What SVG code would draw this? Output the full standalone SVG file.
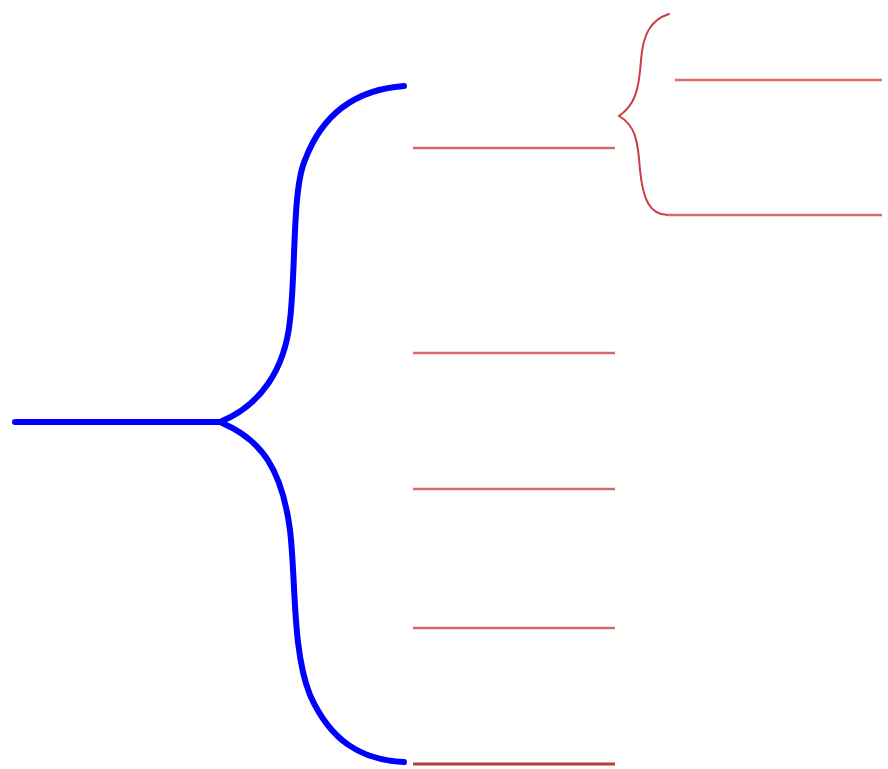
<svg xmlns="http://www.w3.org/2000/svg" width="888" height="769" viewBox="0 0 888 769">
<style>
.blue{fill:none;stroke:#0000ff;stroke-width:6;stroke-linecap:round;stroke-linejoin:round}
.red{fill:none;stroke:#d96a6a;stroke-width:2.5}
.redb{fill:none;stroke:#cc3b47;stroke-width:2;stroke-linecap:round}
</style>
<rect width="888" height="769" fill="#ffffff"/>
<g id="main-brace">
<line class="blue" x1="15" y1="422" x2="222" y2="422"/>
<path class="blue" d="M222,421 C260,405 285,370 290,320 C296,270 292,190 305,160 C320,120 350,90 404,86"/>
<path class="blue" d="M222,423 C262,440 282,470 290,530 C296,580 292,650 310,695 C330,740 360,760 404,762"/>
</g>
<g id="small-brace">
<path class="redb" d="M669,14 C650,20 643,35 641,60 C639,90 635,105 619,116 C635,125 638,140 640,170 C643,200 650,215 668,215"/>
</g>
<g id="connectors">
<line class="red" x1="413" y1="148" x2="615" y2="148"/>
<line class="red" x1="413" y1="353" x2="615" y2="353"/>
<line class="red" x1="413" y1="489" x2="615" y2="489"/>
<line class="red" x1="413" y1="628" x2="615" y2="628"/>
<line x1="413" y1="764" x2="615" y2="764" stroke="#b83a3a" stroke-width="3"/>
<line class="red" x1="675" y1="80" x2="882" y2="80"/>
<line class="red" x1="668" y1="215" x2="882" y2="215"/>
</g>
</svg>
